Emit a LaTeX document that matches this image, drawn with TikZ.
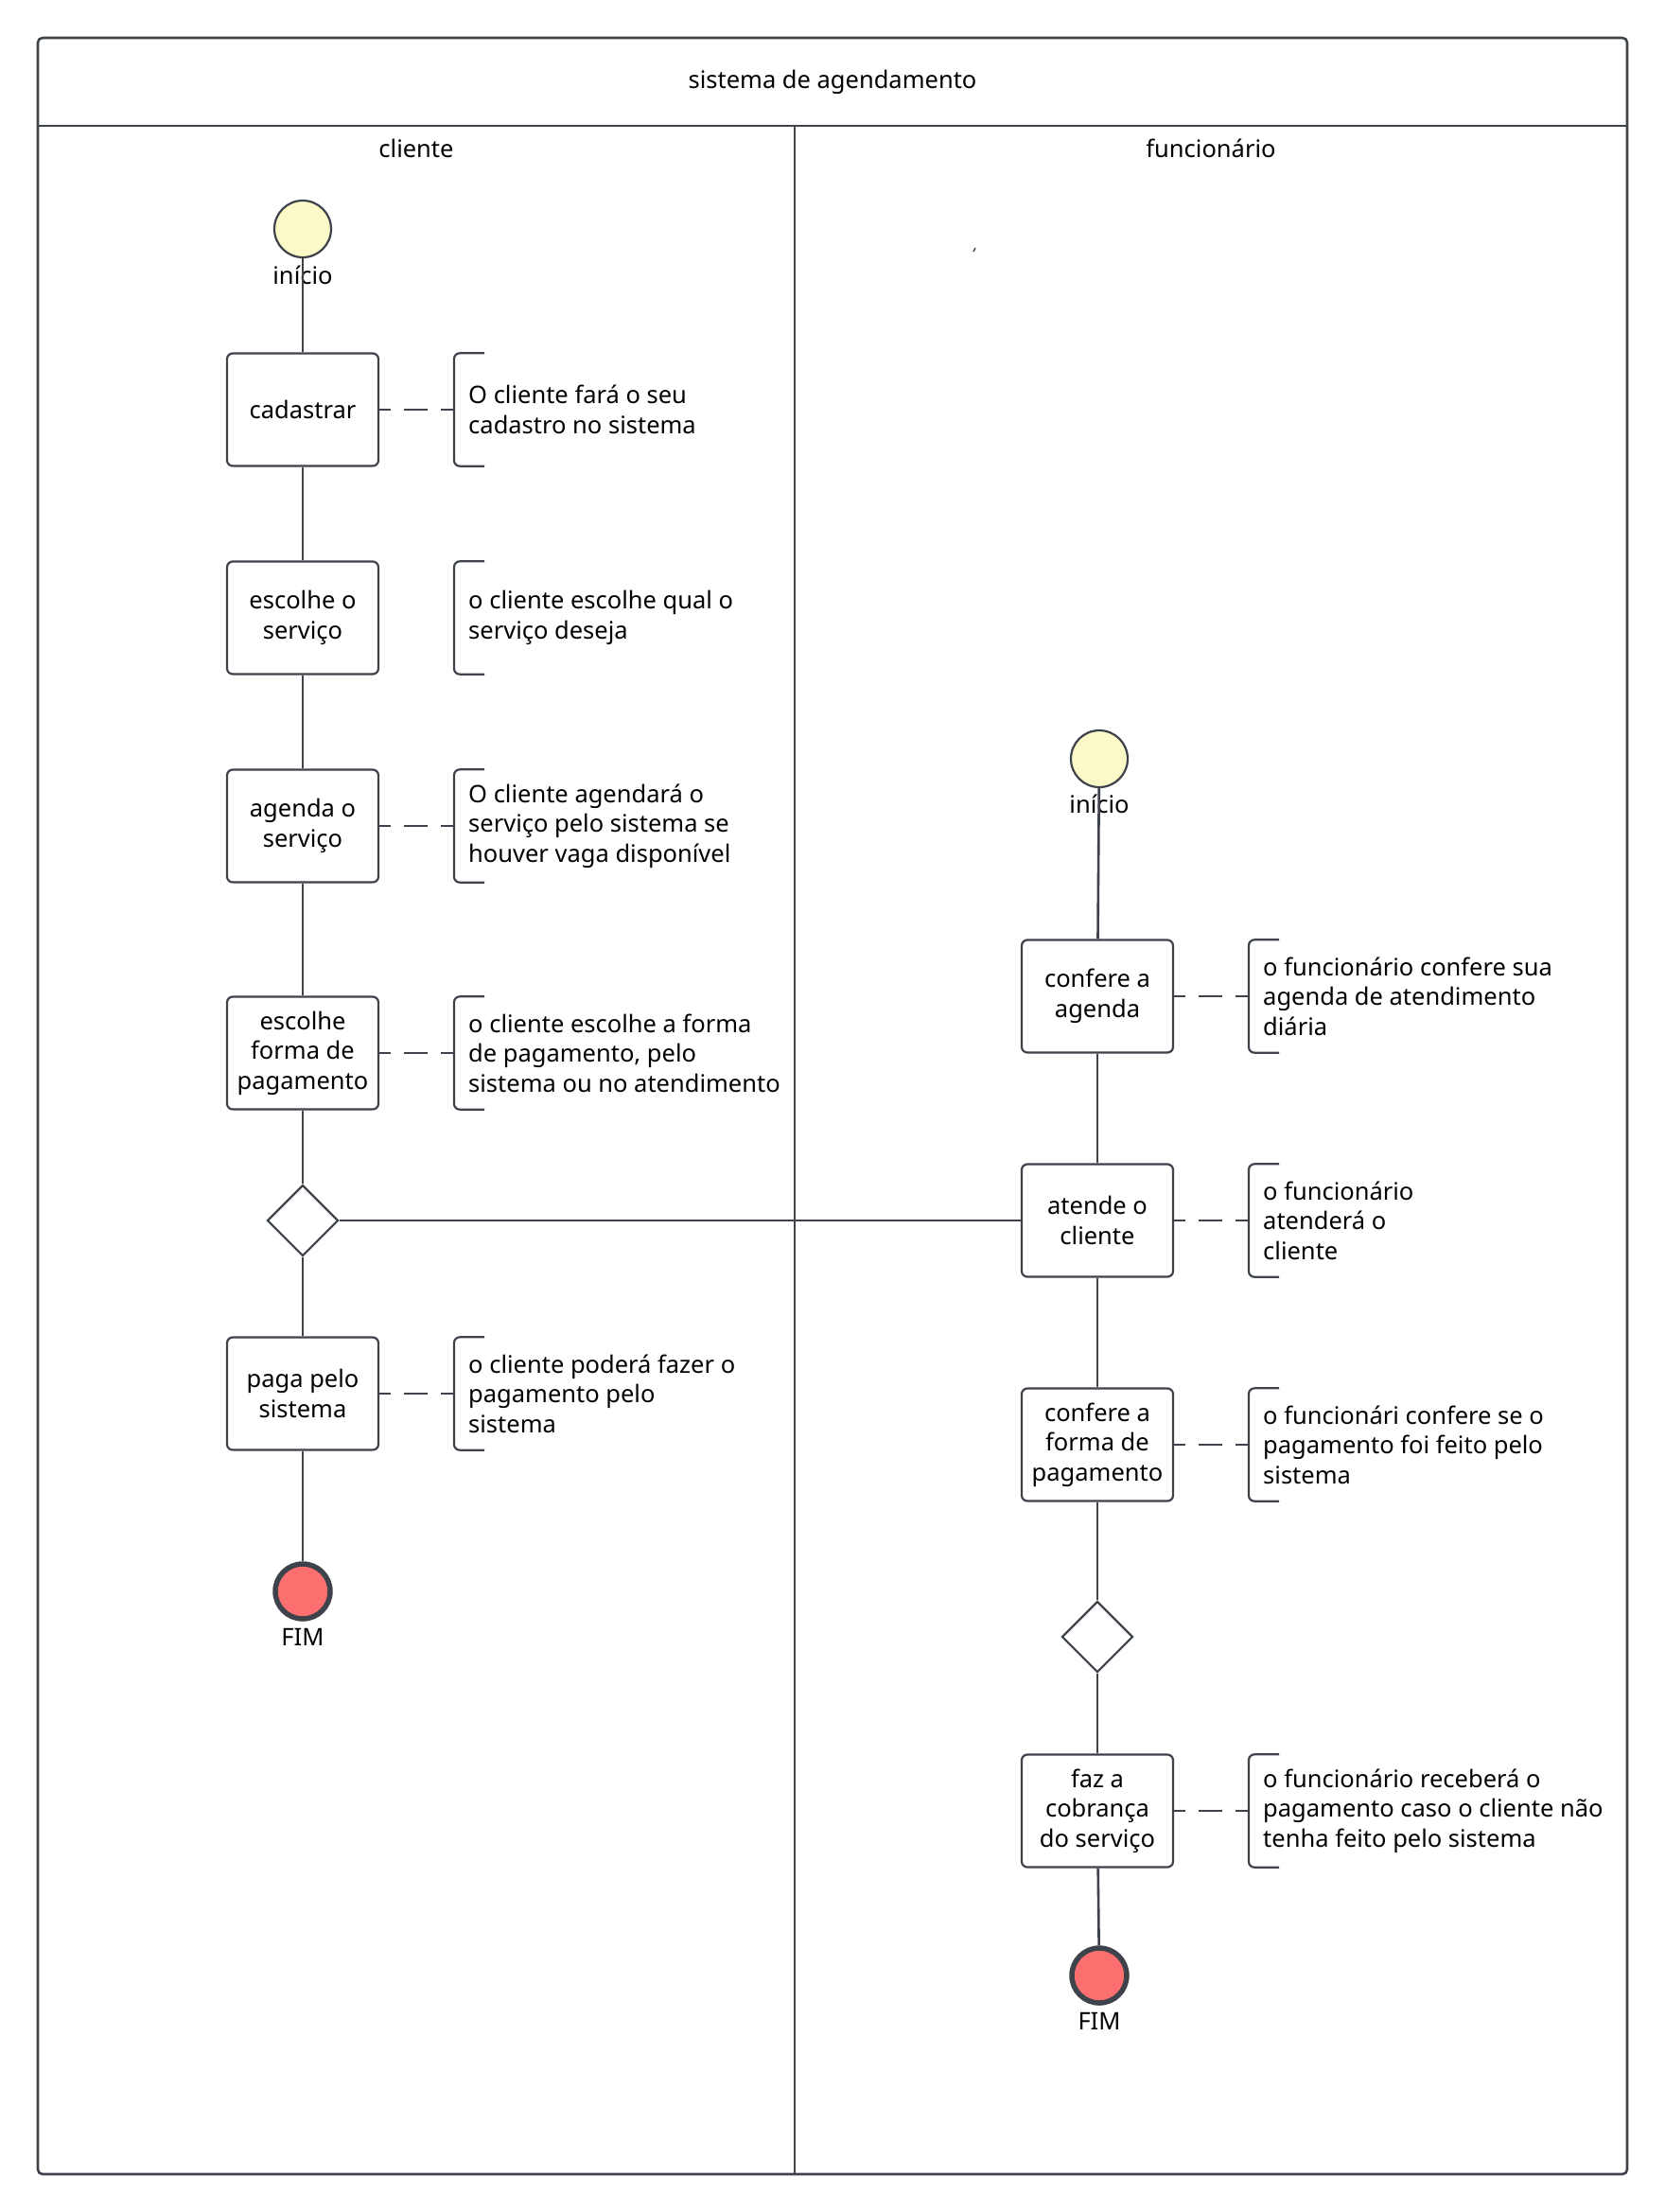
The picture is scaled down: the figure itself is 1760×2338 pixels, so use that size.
\documentclass[tikz,border=0pt]{standalone}
\usepackage{fontspec}
\setmainfont{Noto Sans}
\usetikzlibrary{shapes.geometric}
\definecolor{ink}{HTML}{3E434B}
\definecolor{startfill}{HTML}{FCF9C8}
\definecolor{endfill}{HTML}{FB6F6F}

\begin{document}
\begin{tikzpicture}[x=1pt,y=-1pt,
  every node/.style={font=\fontsize{25.5}{31.5}\selectfont, text=black},
  action/.style={draw=ink, line width=2.2pt, rounded corners=6pt, minimum width=160pt,
    minimum height=119pt, align=center, inner sep=0pt},
  note/.style={anchor=west, minimum height=119pt, inner xsep=15pt, inner ysep=0pt,
    align=left},
  bracket/.style={draw=ink, line width=2.2pt, rounded corners=6pt},
  flow/.style={draw=ink, line width=2.6pt},
  link/.style={draw=ink, line width=2.6pt, dash pattern=on 25pt off 14pt, dash phase=13pt},
  startnode/.style={circle, draw=ink, line width=2.2pt, fill=startfill, minimum size=60pt, inner sep=0pt},
  endnode/.style={circle, draw=ink, line width=5.5pt, fill=endfill, minimum size=58pt, inner sep=0pt},
  choice/.style={diamond, aspect=1, draw=ink, line width=2.2pt, fill=white, minimum size=75pt, inner sep=0pt},
  lane/.style={draw=ink, line width=2.6pt}
]
\useasboundingbox (0,0) rectangle (1760,2338);

% swimlane frame
\draw[lane, rounded corners=5pt] (40,40) rectangle (1720,2298);
\draw[lane] (40,133) -- (1720,133);
\draw[lane] (840,133) -- (840,2298);
\node (title) at (880,87) {sistema de agendamento};
\node (laneA) at (440,157) {cliente};
\node (laneB) at (1280,157) {funcionário};
\draw[draw=ink, line width=1.5pt] (1029,266) -- (1031,262);

% client lane
\node[startnode] (s1) at (320,242) {};
\node (s1l) at (320,291) {início};
\node[action] (a1) at (320,433) {cadastrar};
\node[action] (a2) at (320,653) {escolhe o\\serviço};
\node[action] (a3) at (320,873) {agenda o\\serviço};
\node[action] (a4) at (320,1113) {escolhe\\forma de\\pagamento};
\node[choice] (d1) at (320,1290) {};
\node[action] (a5) at (320,1473) {paga pelo\\sistema};
\node[endnode] (e1) at (320,1682) {};
\node (e1l) at (320,1730) {FIM};

\node[note] (n1) at (480,433) {O cliente fará o seu\\cadastro no sistema};
\node[note] (n2) at (480,653) {o cliente escolhe qual o\\serviço deseja};
\node[note] (n3) at (480,873) {O cliente agendará o\\serviço pelo sistema se\\houver vaga disponível};
\node[note] (n4) at (480,1113) {o cliente escolhe a forma\\de pagamento, pelo\\sistema ou no atendimento};
\node[note] (n5) at (480,1473) {o cliente poderá fazer o\\pagamento pelo\\sistema};

% employee lane
\node[startnode] (s2) at (1162,802) {};
\node (s2l) at (1162,850) {início};
\node[action] (b1) at (1160,1053) {confere a\\agenda};
\node[action] (b2) at (1160,1290) {atende o\\cliente};
\node[action] (b3) at (1160,1527) {confere a\\forma de\\pagamento};
\node[choice] (d2) at (1160,1730) {};
\node[action] (b4) at (1160,1914) {faz a\\cobrança\\do serviço};
\node[endnode] (e2) at (1162,2088) {};
\node (e2l) at (1162,2136) {FIM};

\node[note] (m1) at (1320,1053) {o funcionário confere sua\\agenda de atendimento\\diária};
\node[note] (m2) at (1320,1290) {o funcionário\\atenderá o\\cliente};
\node[note] (m3) at (1320,1527) {o funcionári confere se o\\pagamento foi feito pelo\\sistema};
\node[note] (m4) at (1320,1914) {o funcionário receberá o\\pagamento caso o cliente não\\tenha feito pelo sistema};

% note brackets
\foreach \n in {n1,n2,n3,n4,n5,m1,m2,m3,m4}{
  \draw[bracket] ([xshift=32pt]\n.north west) -- (\n.north west) -- (\n.south west) -- ([xshift=32pt]\n.south west);
}

% control flow
\draw[flow] (s1) -- (a1);
\draw[flow] (a1) -- (a2);
\draw[flow] (a2) -- (a3);
\draw[flow] (a3) -- (a4);
\draw[flow] (a4) -- (d1);
\draw[flow] (d1) -- (a5);
\draw[flow] (a5) -- (e1);
\draw[flow] (d1.east) -- (b2.west);
\draw[flow] (s2) -- (b1);
\draw[flow] (b1) -- (b2);
\draw[flow] (b2) -- (b3);
\draw[flow] (b3) -- (d2);
\draw[flow] (d2) -- (b4);
\draw[flow] (b4) -- (e2);

% note links
\draw[link] (a1.east) -- (n1.west);
\draw[link] (a3.east) -- (n3.west);
\draw[link] (a4.east) -- (n4.west);
\draw[link] (a5.east) -- (n5.west);
\draw[link] (b1.east) -- (m1.west);
\draw[link] (b2.east) -- (m2.west);
\draw[link] (b3.east) -- (m3.west);
\draw[link] (b4.east) -- (m4.west);
\end{tikzpicture}
\end{document}
